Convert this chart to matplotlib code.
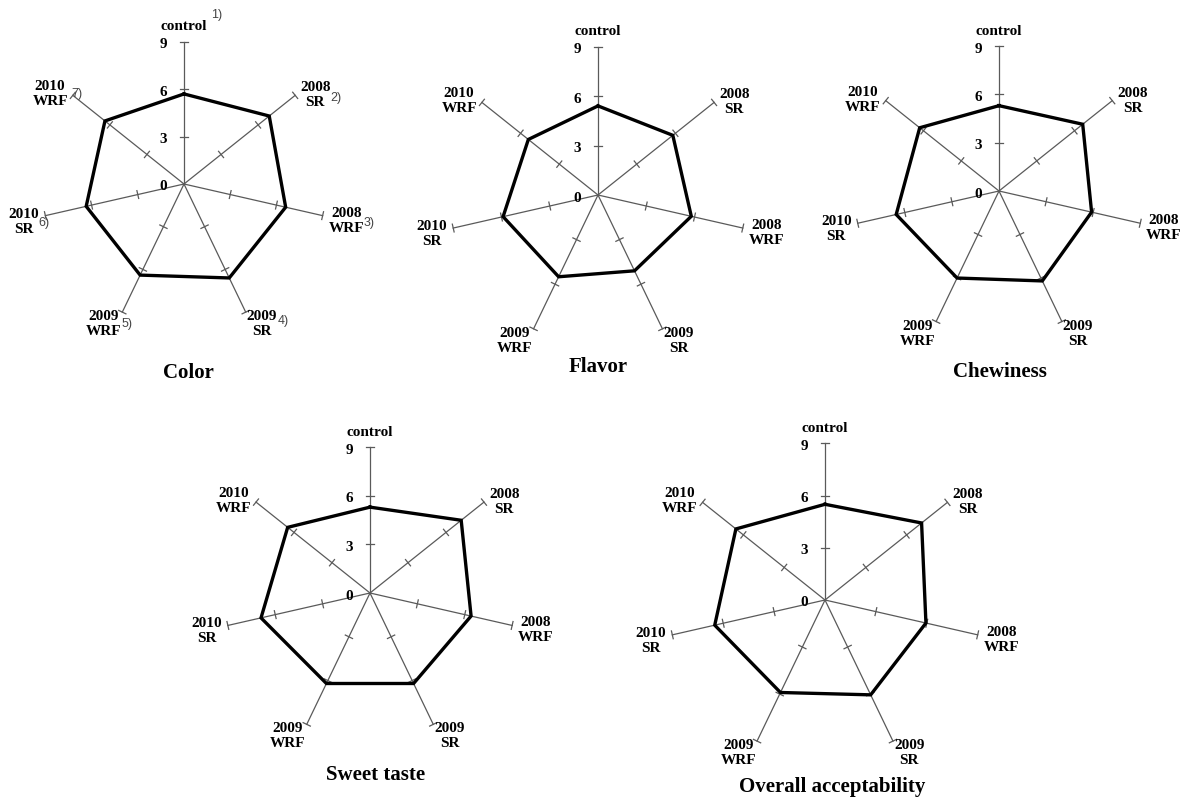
import numpy as np
import matplotlib
matplotlib.use('Agg')
import matplotlib.pyplot as plt

# sensory scores (9-point scale)
categories = ['control', '2008\nSR', '2008\nWRF', '2009\nSR', '2009\nWRF', '2010\nSR', '2010\nWRF']
color_vals = [5.7, 6.9, 6.6, 6.6, 6.4, 6.35, 6.4]
flavor_vals = [5.4, 5.8, 5.8, 5.1, 5.5, 5.9, 5.4]
chewiness_vals = [5.3, 6.65, 5.9, 6.2, 6.0, 6.55, 6.3]
sweet_vals = [5.3, 7.2, 6.4, 6.2, 6.2, 6.9, 6.5]
overall_vals = [5.5, 7.1, 5.95, 6.05, 5.9, 6.5, 6.55]
titles = ['Color', 'Flavor', 'Chewiness', 'Sweet taste', 'Overall acceptability']
rticks = [0, 3, 6, 9]
footnotes = ['1)', '2)', '3)', '4)', '5)', '6)', '7)']

W, H = 1180, 797
# chart centre (px), pixels per score unit, title offset (px)
layout = [((184, 184), 15.8, (4, 189)),
          ((598, 195), 16.5, (0, 172)),
          ((999, 191), 16.1, (1, 181)),
          ((370, 593), 16.2, (6, 182)),
          ((825, 600), 17.4, (7, 187))]
# label offsets from the axis end, px (x right, y down)
lab_off = [(0, -15, 'center'), (5, 0, 'left'), (6, 5, 'left'), (1, 12, 'left'),
           (-1, 12, 'right'), (-6, 6, 'right'), (-5, -1, 'right')]
fn_off = [(33, -27), (41, 3), (46, 7), (38, 9), (5, 12), (-1, 7), (4, -1)]

SERIF = 'Liberation Serif'
PT = 0.72  # px -> points at dpi 100


def radar(fig, vals, title, centre, scale, toff, notes=False):
    cx, cy = centre
    half = 10 * scale
    ax = fig.add_axes([(cx - half) / W, 1 - (cy + half) / H, 2 * half / W, 2 * half / H])
    ax.set_xlim(-10, 10)
    ax.set_ylim(-10, 10)
    ax.axis('off')
    n = len(vals)
    ang = np.arange(n) * 2 * np.pi / n
    sx, sy = np.sin(ang), np.cos(ang)
    rmax = rticks[-1]
    tl = 4.0 / scale
    for i in range(n):
        ax.plot([0, rmax * sx[i]], [0, rmax * sy[i]], color='#5a5a5a', lw=0.9, zorder=1)
        for r in rticks[1:]:
            px, py = r * sx[i], r * sy[i]
            ax.plot([px - tl * sy[i], px + tl * sy[i]], [py + tl * sx[i], py - tl * sx[i]],
                    color='#5a5a5a', lw=0.9, zorder=1)
        dx, dy, ha = lab_off[i]
        ax.annotate(categories[i], xy=(rmax * sx[i], rmax * sy[i]), xytext=(dx * PT, -dy * PT),
                    textcoords='offset points', ha=ha, va='center', multialignment='center',
                    fontsize=11, fontweight='bold', family=SERIF, linespacing=1.2)
        if notes:
            fx, fy = fn_off[i]
            ax.annotate(footnotes[i], xy=(rmax * sx[i], rmax * sy[i]), xytext=(fx * PT, -fy * PT),
                        textcoords='offset points', ha='center', va='center',
                        fontsize=9, color='#444444', family='Liberation Sans')
    for r in rticks:
        ax.annotate(str(r), xy=(0, r), xytext=(-21 * PT, -3 * PT), textcoords='offset points',
                    ha='center', va='center', fontsize=11, fontweight='bold', family=SERIF)
    v = np.array(vals + vals[:1])
    a = np.append(ang, ang[0])
    ax.plot(v * np.sin(a), v * np.cos(a), color='black', lw=2.4, zorder=3,
            solid_joinstyle='miter')
    fig.text((cx + toff[0]) / W, 1 - (cy + toff[1]) / H, title, ha='center', va='center',
             fontsize=15, fontweight='bold', family=SERIF)


def main():
    fig = plt.figure(figsize=(W / 100, H / 100), dpi=100)
    fig.patch.set_facecolor('white')
    data = [color_vals, flavor_vals, chewiness_vals, sweet_vals, overall_vals]
    for k, (vals, title) in enumerate(zip(data, titles)):
        centre, scale, toff = layout[k]
        radar(fig, vals, title, centre, scale, toff, notes=(k == 0))
    fig.savefig('out.png', dpi=100)


if __name__ == "__main__":
    main()
